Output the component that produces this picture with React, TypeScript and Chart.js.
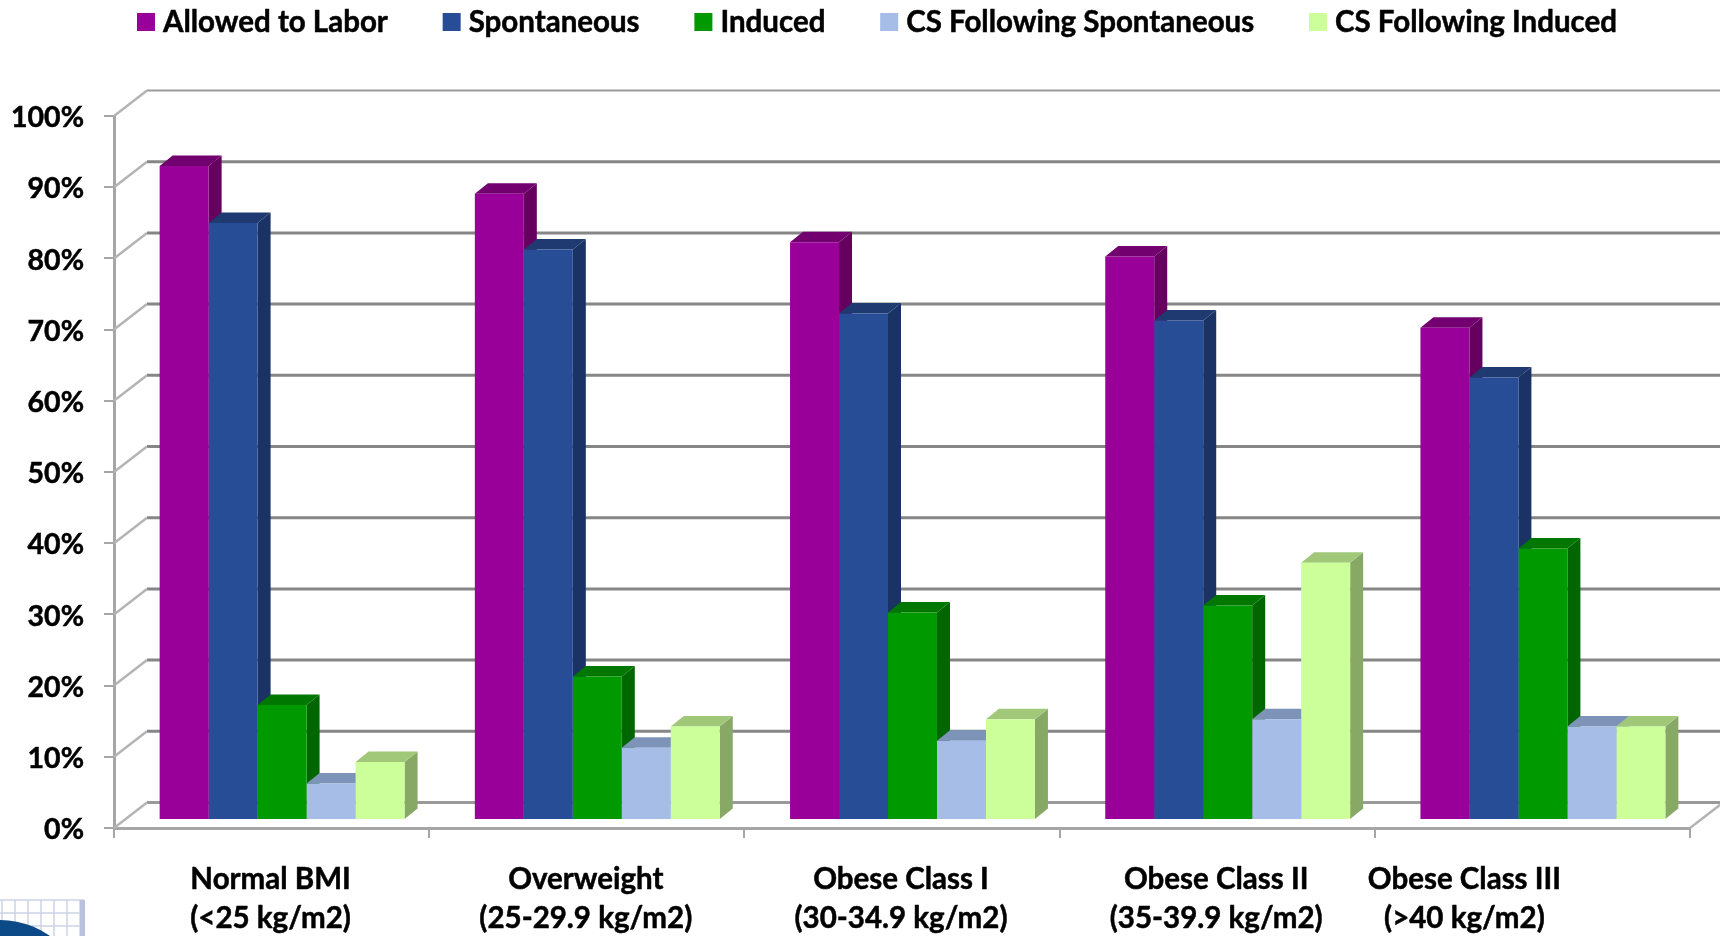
import React, { useEffect, useRef } from "react";
import { Chart, registerables } from "chart.js";

Chart.register(...registerables);

const categories = [
  ["Normal BMI", "(<25 kg/m2)"],
  ["Overweight", "(25-29.9 kg/m2)"],
  ["Obese Class I", "(30-34.9 kg/m2)"],
  ["Obese Class II", "(35-39.9 kg/m2)"],
  ["Obese Class III", "(>40 kg/m2)"],
];
const seriesNames = ["Allowed to Labor", "Spontaneous", "Induced", "CS Following Spontaneous", "CS Following Induced"];
const allowedToLabor = [91.7, 87.8, 81, 79, 69];
const spontaneous = [83.7, 80, 71, 70, 62];
const induced = [16, 20, 29, 30, 38];
const csSpontaneous = [5, 10, 11, 14, 13];
const csInduced = [8, 13, 14, 36, 13];
const seriesValues = [allowedToLabor, spontaneous, induced, csSpontaneous, csInduced];

const frontColors = ["#990099", "#264D96", "#009900", "#A6BDE8", "#CCFF99"];
const topColors = ["#73006F", "#1F3A70", "#007700", "#7D93B8", "#A0C878"];
const sideColors = ["#66005F", "#1A3264", "#006600", "#7D93B8", "#88A866"];
const labelShifts = [-1, -1, -1, -1, -68];

const FONT = "Lato";
const AXIS_GREY = "#A6A6A6";
const WALL_GREY = "#868686";
const WALL_DX = 33;
const WALL_DY = -25.5;
const BAR_DX = 13;
const BAR_DY = -10.5;

// Slides the bar category axis sideways so the bars stand in the middle of the floor.
const barPlane = {
  id: "barPlane",
  afterLayout(chart: any) {
    const s = chart.scales.xBars;
    s.left += 10.5;
    s.right += 10.5;
    s.configure();
  },
};

// Back wall, side wall and floor of the 3D box, plus the top and side faces of each bar.
const box3d = {
  id: "box3d",
  beforeDatasetsDraw(chart: any) {
    const { ctx, scales } = chart;
    const y = scales.y;
    const x = scales.x;
    ctx.save();
    ctx.lineCap = "butt";
    for (const tick of y.ticks) {
      const py = y.getPixelForValue(tick.value);
      const isTop = tick.value === 100;
      const isFloor = tick.value === 0;
      ctx.strokeStyle = isTop || isFloor ? "#9A9A9A" : WALL_GREY;
      ctx.lineWidth = isTop ? 2 : 3;
      ctx.beginPath();
      ctx.moveTo(x.left + WALL_DX, py + WALL_DY);
      ctx.lineTo(chart.width, py + WALL_DY);
      ctx.stroke();
      ctx.strokeStyle = "#B4B4B4";
      ctx.lineWidth = 2.5;
      ctx.beginPath();
      ctx.moveTo(x.left, py);
      ctx.lineTo(x.left + WALL_DX, py + WALL_DY);
      ctx.stroke();
    }
    const floorY = y.getPixelForValue(0);
    ctx.strokeStyle = "#B4B4B4";
    ctx.lineWidth = 2.5;
    ctx.beginPath();
    ctx.moveTo(x.right, floorY);
    ctx.lineTo(x.right + WALL_DX, floorY + WALL_DY);
    ctx.stroke();

    chart.data.datasets.forEach((_: any, d: number) => {
      chart.getDatasetMeta(d).data.forEach((bar: any) => {
        const l = bar.x - bar.width / 2;
        const r = bar.x + bar.width / 2;
        ctx.fillStyle = sideColors[d];
        ctx.beginPath();
        ctx.moveTo(r, bar.y);
        ctx.lineTo(r + BAR_DX, bar.y + BAR_DY);
        ctx.lineTo(r + BAR_DX, bar.base + BAR_DY);
        ctx.lineTo(r, bar.base);
        ctx.closePath();
        ctx.fill();
        ctx.fillStyle = topColors[d];
        ctx.beginPath();
        ctx.moveTo(l, bar.y);
        ctx.lineTo(l + BAR_DX, bar.y + BAR_DY);
        ctx.lineTo(r + BAR_DX, bar.y + BAR_DY);
        ctx.lineTo(r, bar.y);
        ctx.closePath();
        ctx.fill();
      });
    });
    ctx.restore();
  },
};

// Legend row and two-line category captions.
const captions = {
  id: "captions",
  afterDraw(chart: any) {
    const { ctx, scales } = chart;
    ctx.save();
    ctx.fillStyle = "#000";
    ctx.strokeStyle = "#000";
    ctx.lineWidth = 0.5;
    ctx.lineJoin = "round";
    ctx.font = `bold 29.5px ${FONT}`;
    ctx.textBaseline = "middle";
    ctx.textAlign = "center";
    const print = (text: string, tx: number, ty: number) => {
      ctx.fillText(text, tx, ty);
      ctx.strokeText(text, tx, ty);
    };
    categories.forEach((lines, i) => {
      const cx = scales.x.getPixelForTick(i) + labelShifts[i];
      print(lines[0], cx, 879);
      print(lines[1], cx, 918);
    });

    ctx.textAlign = "left";
    let lx = 137;
    chart.data.datasets.forEach((ds: any, d: number) => {
      ctx.fillStyle = frontColors[d];
      ctx.fillRect(lx, 13, 18, 18);
      ctx.fillStyle = "#000";
      print(ds.label, lx + 26, 22);
      lx += 26 + ctx.measureText(ds.label).width + 54.8;
    });

    // Corner of the institutional logo at the lower left.
    ctx.strokeStyle = "#CDD3E8";
    ctx.lineWidth = 1.5;
    for (let gx = 2; gx < 82; gx += 13) {
      ctx.beginPath();
      ctx.moveTo(gx, 900);
      ctx.lineTo(gx, 936);
      ctx.stroke();
    }
    for (let gy = 900; gy < 936; gy += 13) {
      ctx.beginPath();
      ctx.moveTo(0, gy);
      ctx.lineTo(84, gy);
      ctx.stroke();
    }
    ctx.fillStyle = "#B8C2DE";
    ctx.fillRect(80, 900, 5, 36);
    ctx.fillStyle = "#0B4A86";
    ctx.beginPath();
    ctx.arc(0, 1006, 86, 0, Math.PI * 2);
    ctx.fill();
    ctx.restore();
  },
};

export default function App() {
  const ref = useRef<HTMLCanvasElement>(null);
  useEffect(() => {
    const chart = new Chart(ref.current!, {
      type: "bar",
      data: {
        labels: categories.map((c) => c.join(" ")),
        datasets: seriesNames.map((label, i) => ({
          label,
          data: seriesValues[i],
          backgroundColor: frontColors[i],
          xAxisID: "xBars",
          yAxisID: "yBars",
          categoryPercentage: 0.777,
          barPercentage: 1,
        })),
      },
      options: {
        responsive: false,
        animation: false,
        layout: { padding: { top: 116, right: 30, left: 0, bottom: 0 } },
        plugins: { legend: { display: false }, tooltip: { enabled: false } },
        scales: {
          x: {
            type: "category",
            position: "bottom",
            afterFit: (s: any) => { s.height = 108; },
            border: { color: AXIS_GREY, width: 3 },
            grid: { drawOnChartArea: false, color: AXIS_GREY, tickLength: 10, lineWidth: 2, offset: true },
            ticks: { display: false },
          },
          y: {
            type: "linear",
            position: "left",
            min: 0,
            max: 100,
            afterFit: (s: any) => { s.width = 114; },
            border: { color: AXIS_GREY, width: 3 },
            grid: { drawOnChartArea: false, color: AXIS_GREY, tickLength: 10, lineWidth: 2 },
            ticks: {
              stepSize: 10,
              padding: 20,
              labelOffset: 2,
              color: "#000",
              textStrokeColor: "#000",
              textStrokeWidth: 0.5,
              font: { family: FONT, weight: "bold", size: 28.5 },
              callback: (v: any) => `${v}%`,
            },
          },
          xBars: { type: "category", display: false, position: "bottom" },
          yBars: { type: "linear", display: false, position: "left", min: -1.264, max: 98.736 },
        },
      },
      plugins: [barPlane, box3d, captions],
    } as any);
    return () => chart.destroy();
  }, []);
  return (
    <canvas
      ref={ref}
      width={1720}
      height={936}
      style={{ position: "absolute", left: 0, top: 0, display: "block", width: 1720, height: 936 }}
    />
  );
}
